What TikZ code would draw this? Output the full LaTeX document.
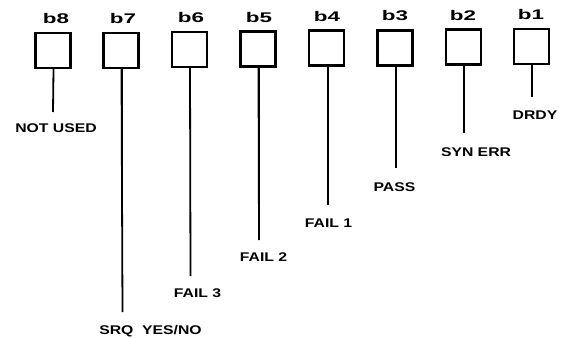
\documentclass[tikz,border=0pt]{standalone}
\usepackage{fontspec}
\newfontfamily\txtfont[FakeStretch=1.25]{Liberation Sans}
\newfontfamily\bitfont[FakeStretch=1.6]{Liberation Sans}
\begin{document}
\begin{tikzpicture}[x=1pt,y=-1pt,
  bitbox/.style={draw, line width=2.4pt, minimum size=35pt, inner sep=0pt},
  bitlabel/.style={anchor=base, inner sep=0pt, font=\bitfont\bfseries\fontsize{14}{14}\selectfont},
  sig/.style={anchor=base, inner sep=0pt, font=\txtfont\bfseries\fontsize{12.6}{13}\selectfont},
  lead/.style={line width=1.8pt}]
\useasboundingbox (0,0) rectangle (569,339);
% boxes
\node[bitbox] (b8) at (53,50.5) {};
\node[bitbox] (b7) at (121,50.5) {};
\node[bitbox] (b6) at (189.5,49.5) {};
\node[bitbox] (b5) at (258,49) {};
\node[bitbox] (b4) at (326.5,48) {};
\node[bitbox] (b3) at (395,48) {};
\node[bitbox] (b2) at (463.5,47) {};
\node[bitbox] (b1) at (531.5,46.5) {};
% bit labels
\node[bitlabel] (l8) at (56,24) {b8};
\node[bitlabel] (l7) at (123,23.5) {b7};
\node[bitlabel] (l6) at (191,23) {b6};
\node[bitlabel] (l5) at (259,22.5) {b5};
\node[bitlabel] (l4) at (327,21.5) {b4};
\node[bitlabel] (l3) at (395,21) {b3};
\node[bitlabel] (l2) at (463,20.5) {b2};
\node[bitlabel] (l1) at (531,20) {b1};
% lead ends
\coordinate (e8) at (b8.south |- 0,112);
\coordinate (e7) at ([xshift=1.5pt]b7.south |- 0,312);
\coordinate (e6) at ([xshift=1pt]b6.south |- 0,276);
\coordinate (e5) at ([xshift=1pt]b5.south |- 0,240);
\coordinate (e4) at ([xshift=1.5pt]b4.south |- 0,205);
\coordinate (e3) at ([xshift=1pt]b3.south |- 0,168);
\coordinate (e2) at ([xshift=0.5pt]b2.south |- 0,133);
\coordinate (e1) at ([xshift=0.5pt]b1.south |- 0,97);
\foreach \i in {8,7,6,5}{\draw[lead] (b\i.south) ++(0.5pt,0) -- (e\i);}
\draw[lead] ([xshift=1.5pt]b7.south) -- (e7);
\draw[lead] ([xshift=1pt]b6.south) -- (e6);
\draw[lead] ([xshift=1pt]b5.south) -- (e5);
\draw[lead] ([xshift=1.5pt]b4.south) -- (e4);
\draw[lead] ([xshift=1pt]b3.south) -- (e3);
\draw[lead] ([xshift=0.5pt]b2.south) -- (e2);
\draw[lead] ([xshift=0.5pt]b1.south) -- (e1);
% signal labels
\node[sig] (t8) at (56,133) {NOT USED};
\node[sig] (t7) at (150.5,334.5) {SRQ\ \ YES/NO};
\node[sig] (t6) at (197.5,297.5) {FAIL 3};
\node[sig] (t5) at (263.5,261.5) {FAIL 2};
\node[sig] (t4) at (328.5,227.5) {FAIL 1};
\node[sig] (t3) at (394.5,191.5) {PASS};
\node[sig] (t2) at (476,156.5) {SYN ERR};
\node[sig] (t1) at (535,119.5) {DRDY};
\end{tikzpicture}
\end{document}
